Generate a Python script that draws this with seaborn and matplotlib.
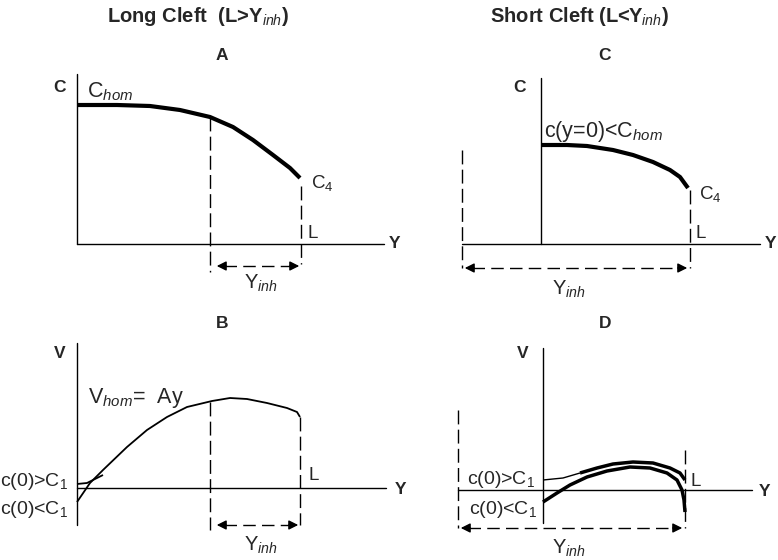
import numpy as np
import pandas as pd
import matplotlib
matplotlib.use("Agg")
import matplotlib.pyplot as plt
import seaborn as sns

sns.set_theme(style="white")
plt.rcParams['font.family'] = ['Liberation Sans', 'DejaVu Sans']
plt.rcParams['mathtext.fontset'] = 'custom'
plt.rcParams['mathtext.rm'] = 'Liberation Sans'
plt.rcParams['mathtext.it'] = 'Liberation Sans:italic'

# -- curve points (pixel coords, y down)
a_x = [77, 117, 150, 180, 210, 233, 253, 273, 290, 300]
a_y = [105, 105, 106, 110, 117, 127, 140, 155, 168, 178]

c_x = [542, 567, 587, 613, 633, 653, 670, 680, 688]
c_y = [145, 145, 146, 150, 155, 162, 170, 177, 188]

b_x = [77, 90, 103, 127, 147, 167, 187, 212, 230, 247, 267, 287, 297, 300]
b_y = [502, 483, 470, 447, 430, 417, 407, 401, 398, 399, 403, 408, 412, 417]
b2_x = [77, 87, 97, 103]
b2_y = [484, 483, 478, 475]

d_up_x = [543, 563, 580, 597, 613, 633, 653, 670, 680, 685]
d_up_y = [480, 478, 473, 468, 464, 462, 463, 468, 473, 480]
d_lo_x = [543, 557, 570, 587, 607, 630, 650, 667, 677, 682, 684, 685]
d_lo_y = [502, 493, 485, 477, 471, 467, 468, 473, 480, 490, 500, 512]

fig = plt.figure(figsize=(7.78, 5.6), dpi=100)
ax = fig.add_axes([0, 0, 1, 1])
ax.set_xlim(0, 778)
ax.set_ylim(560, 0)
ax.axis('off')

k = 'black'

def curve(x, y, lw):
    df = pd.DataFrame({'x': x, 'y': y})
    sns.lineplot(data=df, x='x', y='y', sort=False, color=k, lw=lw, ax=ax,
                 solid_joinstyle='round', solid_capstyle='butt')

def dash_v(x, y0, y1):
    ax.plot([x, x], [y0, y1], color=k, lw=1, ls=(0, (10, 3.8)))

def dbl_arrow(x0, x1, y):
    ax.plot([x0 + 10, x1 - 10], [y, y], color=k, lw=1, ls=(0, (9, 4.5)))
    for a, b in [(x0, x0 + 15), (x1, x1 - 15)]:
        ax.annotate('', xy=(a, y), xytext=(b, y),
                    arrowprops=dict(arrowstyle='-|>', color=k, lw=1, mutation_scale=14))

def axes_lines(x0, ytop, ybot, xl, xr, yax):
    ax.plot([x0, x0], [ytop, ybot], color=k, lw=1)
    ax.plot([xl, xr], [yax, yax], color=k, lw=1)

fs = 14.5
# titles
ax.text(198, 17, r"Long Cleft  (L>Y$_{inh}$)", ha='center', va='center', fontsize=14.5, fontweight='bold')
ax.text(579, 17, r"Short Cleft (L<Y$_{inh}$)", ha='center', va='center', fontsize=14.5, fontweight='bold')
for lab, x, y in [('A', 222, 55), ('C', 605, 55), ('B', 222, 323), ('D', 605, 323)]:
    ax.text(x, y, lab, ha='center', va='center', fontsize=12.5, fontweight='bold')

# ---- panel A
axes_lines(77, 74, 244, 77, 384, 244)
ax.text(60, 88, 'C', ha='center', va='center', fontsize=12.5, fontweight='bold')
ax.text(395, 244, 'Y', ha='center', va='center', fontsize=12.5, fontweight='bold')
curve(a_x, a_y, 3)
dash_v(210, 117, 272)
dash_v(301, 186, 264)
dbl_arrow(214, 302, 266)
ax.text(87, 92, r"C$_{hom}$", ha='left', va='center', fontsize=15.5)
ax.text(311, 183, r"C$_4$", ha='left', va='center', fontsize=13.5)
ax.text(308, 234, 'L', ha='left', va='center', fontsize=13.5)
ax.text(244, 283, r"Y$_{inh}$", ha='left', va='center', fontsize=fs)

# ---- panel C
axes_lines(541, 78, 244, 462, 760, 244)
ax.text(520, 88, 'C', ha='center', va='center', fontsize=12.5, fontweight='bold')
ax.text(771, 244, 'Y', ha='center', va='center', fontsize=12.5, fontweight='bold')
curve(c_x, c_y, 3)
dash_v(462, 150, 268)
dash_v(690, 190, 268)
dbl_arrow(462, 690, 268)
ax.text(544, 131, r"c(y=0)<C$_{hom}$", ha='left', va='center', fontsize=15.5)
ax.text(699, 194, r"C$_4$", ha='left', va='center', fontsize=13.5)
ax.text(696, 233, 'L', ha='left', va='center', fontsize=13.5)
ax.text(552, 289, r"Y$_{inh}$", ha='left', va='center', fontsize=fs)

# ---- panel B
axes_lines(77, 343, 525, 77, 386, 488)
ax.text(60, 353, 'V', ha='center', va='center', fontsize=12.5, fontweight='bold')
ax.text(401, 490, 'Y', ha='center', va='center', fontsize=12.5, fontweight='bold')
curve(b_x, b_y, 1.3)
curve(b2_x, b2_y, 1.3)
dash_v(210, 402, 530)
dash_v(300, 417, 525)
dbl_arrow(214, 301, 525)
ax.text(88, 398, r"V$_{hom}$=  Ay", ha='left', va='center', fontsize=15.5)
ax.text(0, 482, r"c(0)>C$_1$", ha='left', va='center', fontsize=14)
ax.text(0, 509, r"c(0)<C$_1$", ha='left', va='center', fontsize=14)
ax.text(309, 475, 'L', ha='left', va='center', fontsize=13.5)
ax.text(244, 545, r"Y$_{inh}$", ha='left', va='center', fontsize=fs)

# ---- panel D
axes_lines(543, 348, 523, 458, 752, 490)
ax.text(523, 353, 'V', ha='center', va='center', fontsize=12.5, fontweight='bold')
ax.text(765, 492, 'Y', ha='center', va='center', fontsize=12.5, fontweight='bold')
curve(d_up_x[:3], d_up_y[:3], 1)
curve(d_up_x[2:], d_up_y[2:], 2.5)
curve(d_lo_x, d_lo_y, 2.5)
dash_v(458, 410, 528)
dash_v(685, 450, 528)
dbl_arrow(458, 685, 528)
ax.text(467, 479, r"c(0)>C$_1$", ha='left', va='center', fontsize=14)
ax.text(469, 509, r"c(0)<C$_1$", ha='left', va='center', fontsize=14)
ax.text(691, 481, 'L', ha='left', va='center', fontsize=13.5)
ax.text(552, 548, r"Y$_{inh}$", ha='left', va='center', fontsize=fs)

fig.savefig('out.png', dpi=100)
